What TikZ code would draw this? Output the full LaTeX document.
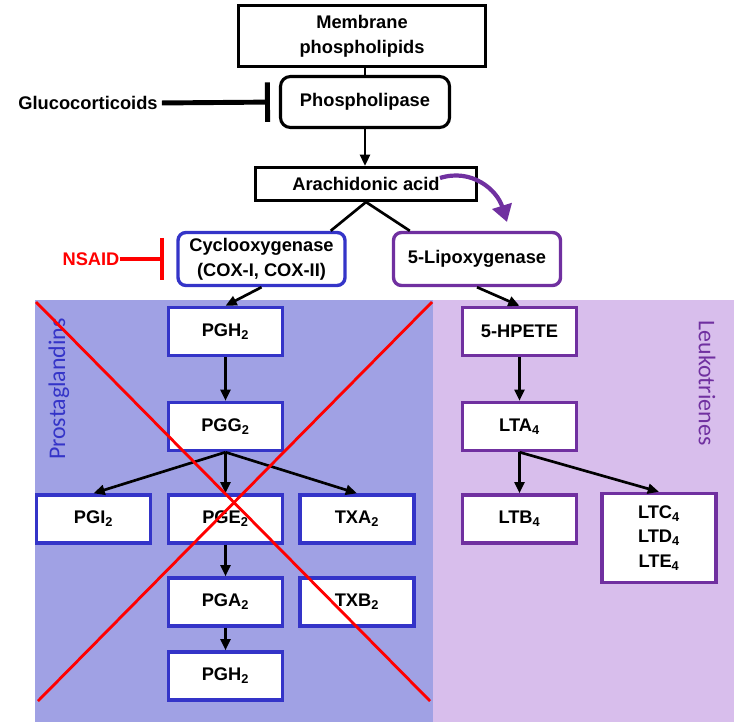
\documentclass[tikz,border=0pt]{standalone}
\usepackage{fontspec}
\setmainfont{Liberation Sans}
\newfontfamily\labelfont{Carlito}
\usepackage{tikz}
\usetikzlibrary{arrows.meta,calc}
\definecolor{pgbg}{RGB}{160,161,228}
\definecolor{ltbg}{RGB}{216,190,236}
\definecolor{coxblue}{RGB}{52,52,200}
\definecolor{loxpurple}{RGB}{112,48,160}
\definecolor{nsaidred}{RGB}{255,0,0}
\tikzset{
  boxtext/.style={font=\bfseries\fontsize{13}{17.5}\selectfont, align=center, inner sep=0pt},
  blkbox/.style={boxtext, draw=black, line width=2.2pt, fill=white},
  pbox/.style={boxtext, draw=coxblue, line width=2.4pt, fill=white, minimum width=2.85cm, minimum height=1.2cm},
  lbox/.style={boxtext, draw=loxpurple, line width=2.4pt, fill=white, minimum width=2.85cm, minimum height=1.2cm},
  wire/.style={line width=1.9pt},
  arr/.style={wire, -{Triangle[length=8pt,width=7pt]}},
  inh/.style={-{Bar[width=28pt]}, line width=3.5pt}
}

\begin{document}
\begin{tikzpicture}[x=0.025cm,y=-0.025cm]
    \useasboundingbox (0,0) rectangle (734,722);
    \fill[pgbg] (35,300) rectangle (433,722); % prostaglandin panel
    \fill[ltbg] (433,300) rectangle (734,722); % leukotriene panel
    \node[rotate=90, text=coxblue, font=\labelfont\fontsize{17}{20}\selectfont] (pglabel) at (59,389) {Prostaglandins}; % panel label
    \node[rotate=-90, text=loxpurple, font=\labelfont\fontsize{17}{20}\selectfont] (ltlabel) at (707,383) {Leukotrienes}; % panel label
    % upper pathway
    \node[blkbox, minimum width=6.175cm, minimum height=1.525cm] (mem) at (362,36) {Membrane\\phospholipids};
    \node[blkbox, rounded corners=0.25cm, minimum width=4.225cm, minimum height=1.275cm] (pla) at (365,102) {Phospholipase};
    \node[blkbox, minimum width=5.525cm, minimum height=0.825cm] (ara) at (366,184) {Arachidonic acid};
    \node[boxtext] (glu) at (88,103) {Glucocorticoids};
    \node[boxtext, text=nsaidred] (nsaid) at (91,259) {NSAID};
    \node[boxtext, draw=coxblue, line width=2.4pt, fill=white, rounded corners=0.2cm, minimum width=4.175cm, minimum height=1.325cm] (cox) at (261.5,259) {Cyclooxygenase\\(COX-I, COX-II)};
    \node[boxtext, draw=loxpurple, line width=2.4pt, fill=white, rounded corners=0.2cm, minimum width=4.175cm, minimum height=1.325cm] (lox) at (477,259) {5-Lipoxygenase};
    % prostaglandins
    \node[pbox] (pgh) at (225.5,331.5) {PGH\textsubscript{2}};
    \node[pbox] (pgg) at (225.5,426.5) {PGG\textsubscript{2}};
    \node[pbox] (pgi) at (93.5,519) {PGI\textsubscript{2}};
    \node[pbox] (pge) at (225.5,519) {PGE\textsubscript{2}};
    \node[pbox] (txa) at (357,519) {TXA\textsubscript{2}};
    \node[pbox] (pga) at (225.5,602) {PGA\textsubscript{2}};
    \node[pbox] (txb) at (357,602) {TXB\textsubscript{2}};
    \node[pbox] (pghb) at (225.5,676) {PGH\textsubscript{2}};
    % leukotrienes
    \node[lbox] (hpete) at (519.5,331.5) {5-HPETE};
    \node[lbox] (lta) at (519.5,426.5) {LTA\textsubscript{4}};
    \node[lbox] (ltb) at (519.5,519) {LTB\textsubscript{4}};
    \node[lbox, minimum height=2.225cm] (ltc) at (659,538) {LTC\textsubscript{4}\\LTD\textsubscript{4}\\LTE\textsubscript{4}};
    % wiring
    \draw[wire] (pla.north) -- (pla.north |- mem.south);
    \draw[arr] (pla.south) -- (pla.south |- ara.north);
    \draw[wire] (ara.south) -- ([xshift=-0.4cm]cox.north east);
    \draw[wire] (ara.south) -- ([xshift=0.45cm]lox.north west);
    \draw[inh, shorten <=0.1cm, shorten >=0.225cm] (glu.east) -- (pla.west); % glucocorticoid block
    \draw[inh, draw=nsaidred, line width=3pt, -{Bar[width=30pt]}, shorten >=0.3cm] (nsaid.east) -- (cox.west); % NSAID block
    \coordinate (lstart) at (440,178);
    \coordinate (lend) at (507,222);
    \draw[loxpurple, line width=3pt, -{Triangle[length=12pt,width=14pt]}] (lstart) .. controls (472,168) and (497,190) .. (lend);
    \draw[arr] (cox.south) -- (pgh.north);
    \draw[arr] (lox.south) -- (hpete.north);
    \draw[arr] (pgh) -- (pgg);
    \draw[arr] (pgg.south) -- (pgi.north);
    \draw[arr] (pgg.south) -- (pge.north);
    \draw[arr] (pgg.south) -- (txa.north);
    \draw[arr] (pge) -- (pga);
    \draw[arr] (pga) -- (pghb);
    \draw[arr] (hpete) -- (lta);
    \draw[arr] (lta.south) -- (ltb.north);
    \draw[arr] (lta.south) -- (ltc.north);
    % red cross
    \draw[nsaidred, line width=2pt] (36,302) -- (430,701);
    \draw[nsaidred, line width=2pt] (432,302) -- (38,701);
\end{tikzpicture}
\end{document}
